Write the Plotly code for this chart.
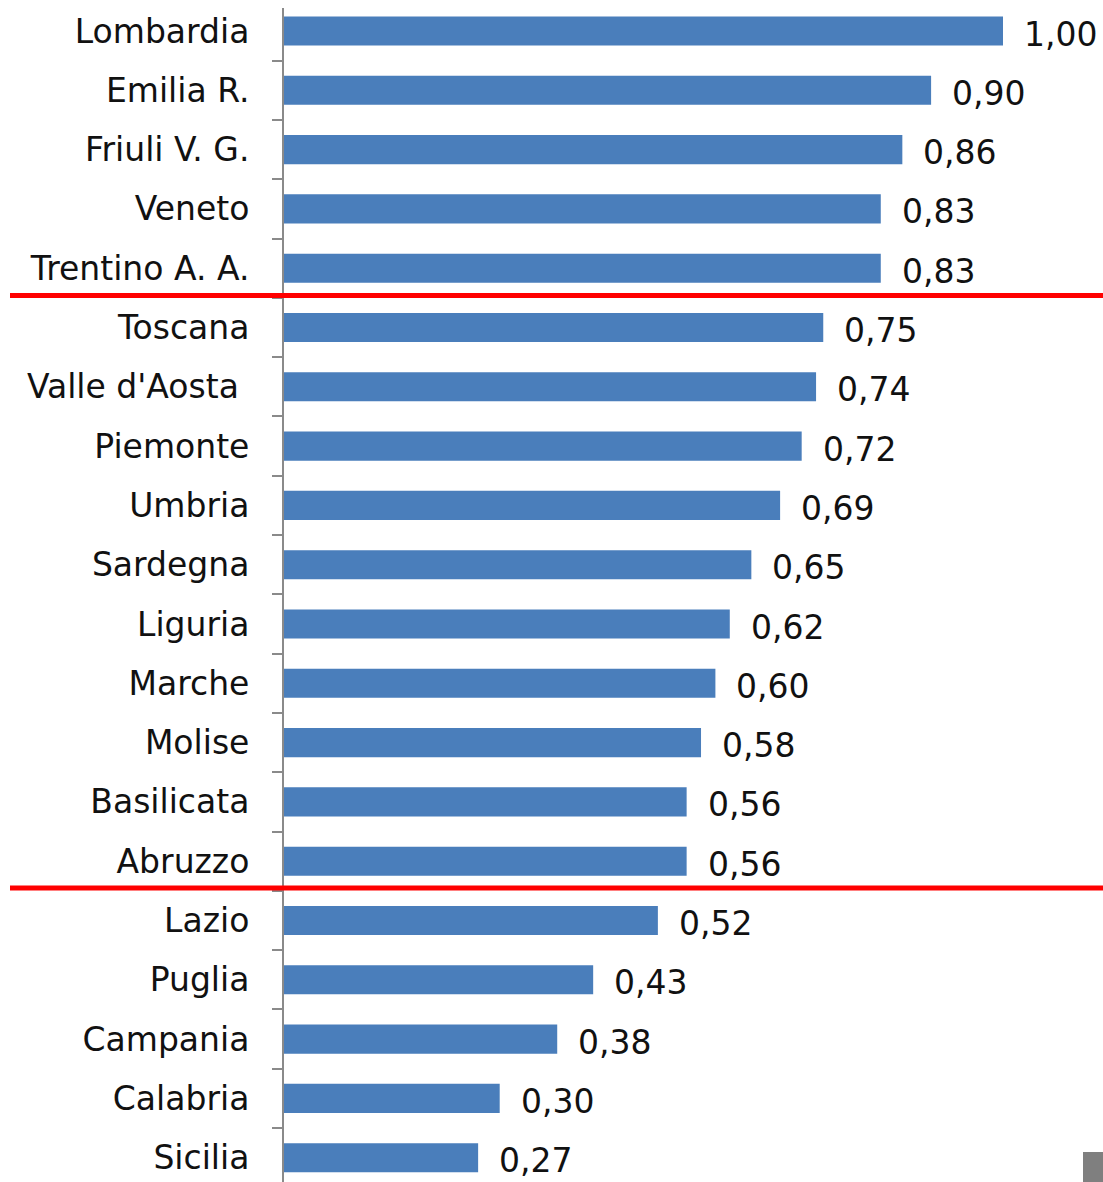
import plotly.graph_objects as go

regions = ["Lombardia", "Emilia R.", "Friuli V. G.", "Veneto", "Trentino A. A.",
           "Toscana", "Valle d'Aosta\u00a0", "Piemonte", "Umbria", "Sardegna",
           "Liguria", "Marche", "Molise", "Basilicata", "Abruzzo",
           "Lazio", "Puglia", "Campania", "Calabria", "Sicilia"]
values = [1.00, 0.90, 0.86, 0.83, 0.83,
          0.75, 0.74, 0.72, 0.69, 0.65,
          0.62, 0.60, 0.58, 0.56, 0.56,
          0.52, 0.43, 0.38, 0.30, 0.27]
value_labels = [f"{v:.2f}".replace(".", ",") for v in values]
group_breaks = [4.46, 14.45]  # separators between groups (category positions)

W, H = 1103, 1182
L, T = 284, 8
STEP = 59.3
fig = go.Figure()
fig.add_trace(go.Bar(
    x=values, y=regions, orientation="h",
    marker=dict(color="#4a7ebb", line=dict(width=0)),
    hoverinfo="skip",
))

for r, v, lab in zip(regions, values, value_labels):
    fig.add_annotation(x=v, y=r, xref="x", yref="y", text=lab, showarrow=False,
                       xanchor="left", yanchor="middle", xshift=19, yshift=-3,
                       font=dict(family="DejaVu Sans", size=33, color="#111111"))

for b in group_breaks:
    fig.add_shape(type="line", xref="paper", yref="y", x0=(10 - L) / (W - L), x1=1.0,
                  y0=b, y1=b, line=dict(color="#ff0000", width=5), layer="above")

# small gray square at bottom right
fig.add_shape(type="rect", xref="paper", yref="paper",
              x0=(1083 - L) / (W - L), x1=1.0, y0=0, y1=30 / (H - T),
              fillcolor="#7f7f7f", line=dict(width=0), layer="above")

fig.update_layout(
    width=W, height=H,
    margin=dict(l=L, r=0, t=T, b=0),
    paper_bgcolor="white", plot_bgcolor="white",
    bargap=0.51, showlegend=False,
    xaxis=dict(range=[0, (W - L) / 719], visible=False, showgrid=False, zeroline=False),
    yaxis=dict(type="category", categoryorder="array", categoryarray=regions,
               range=[(H - 31) / STEP, -(31 - T) / STEP],
               showline=True, linecolor="#8a8a8a", linewidth=2,
               ticks="outside", tickson="boundaries", ticklen=10, tickcolor="#8a8a8a", tickwidth=2,
               ticklabelstandoff=26, showgrid=False, zeroline=False,
               tickfont=dict(family="DejaVu Sans", size=33, color="#111111")),
)

fig.write_html("out.html", config={"displayModeBar": False},
               post_script="document.body.style.margin='0';document.body.style.overflow='hidden';")
